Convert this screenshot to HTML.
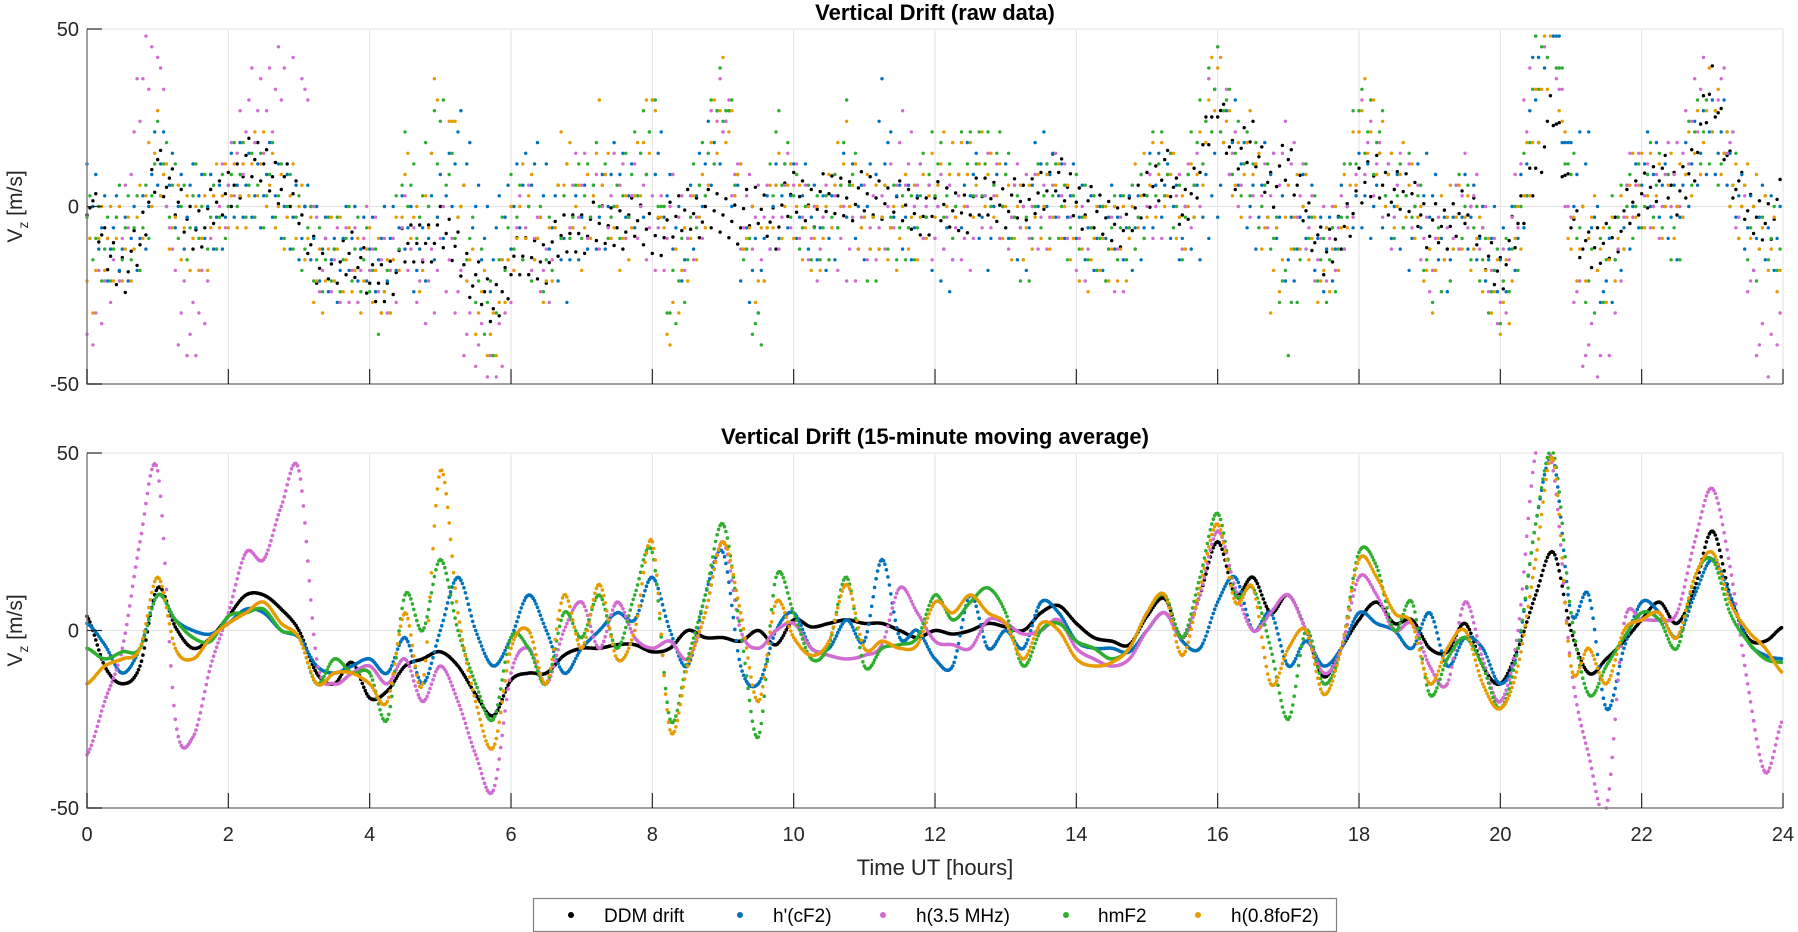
<!DOCTYPE html>
<html><head><meta charset="utf-8">
<style>
html,body{margin:0;padding:0;background:#fff;}
svg{display:block;font-family:"Liberation Sans",sans-serif;}
</style></head>
<body>
<svg id="chart" width="1798" height="932" viewBox="0 0 1798 932">
</svg>
<script>
// ---- data (Vz in m/s, sampled every 0.25 h) ----
const hours = Array.from({length:97},(_,i)=>i*0.25);
const seriesNames = ["DDM drift","h'(cF2)","h(3.5 MHz)","hmF2","h(0.8foF2)"];
const seriesColors = ["#000000","#0072BD","#D16BD1","#2EAE2E","#E89B00"];
const xTicks = [0,2,4,6,8,10,12,14,16,18,20,22,24];
const yTicks = [-50,0,50];
const ddm = [4,-10,-15,-10,12,1,-5,-2,4,10,10,6,0,-12,-15,-9,-19,-17,-10,-8,-6,-10,-18,-24,-14,-12,-12,-7,-5,-5,-4,-4,-6,-5,0,-2,-2,-3,0,-4,3,1,2,3,2,2,0,-2,0,-1,0,2,1,0,5,7,2,-2,-3,-4,4,9,-2,10,25,10,15,5,10,0,-13,-5,3,8,2,3,-5,-6,2,-10,-15,-5,10,22,0,-12,-8,-3,3,8,2,12,28,10,-2,-3,1];
const hcf2 = [2,-4,-12,-5,10,3,0,-1,2,6,5,0,-2,-10,-12,-10,-8,-12,-2,-15,0,15,0,-10,-2,10,0,-12,-5,0,5,3,15,0,-10,10,22,-10,-15,0,5,-5,-5,3,-3,20,-2,0,-8,-10,10,-5,0,-5,8,5,-3,-5,-5,-6,0,5,-3,-5,8,15,0,5,-10,-3,-10,-5,5,2,0,-5,5,-10,-2,-5,-15,-5,30,48,5,10,-22,-5,8,5,-2,10,20,10,-3,-7,-8];
const h35 = [-35,-20,-5,25,45,-25,-30,-10,5,22,20,35,45,-8,-15,-12,-10,-15,-8,-20,-10,-20,-35,-45,-12,-5,-15,0,8,-5,8,-2,-5,-3,-8,5,25,0,-5,0,2,-5,-7,-8,-7,-4,12,5,-3,-4,-5,3,2,-1,0,3,-5,-8,-10,-8,0,5,-2,10,28,12,0,5,10,0,-12,-5,15,10,0,2,-10,-15,8,-8,-20,0,50,45,-10,-35,-50,2,3,3,5,25,40,18,-15,-40,-25];
const hmf2 = [-5,-8,-6,-5,10,3,-2,-3,4,5,6,0,-2,-15,-8,-12,-12,-25,10,0,20,0,-15,-25,-2,-5,-15,5,-2,10,-5,10,22,-25,-8,10,30,0,-30,15,5,-8,-4,15,-10,-5,-4,-2,10,3,8,12,5,-10,0,2,-3,-5,-8,-5,5,10,-2,15,33,10,12,-5,-25,0,-15,-5,22,18,0,8,-18,-8,-2,-10,-22,-5,30,50,5,-18,-10,-2,5,3,-5,15,20,5,-3,-8,-9];
const h08 = [-15,-10,-8,-5,15,-5,-8,-2,2,5,8,2,-2,-15,-12,-12,-15,-20,5,-15,45,5,-20,-33,-5,0,-15,10,-5,13,-8,0,25,-28,-10,5,25,5,-20,8,-2,-7,-3,13,-5,-3,-5,-4,8,5,10,5,2,-8,2,0,-8,-10,-9,-5,5,10,-7,12,30,8,12,-15,-5,0,-18,-5,20,15,5,2,-15,-5,0,-15,-22,-10,20,48,-10,-5,-15,0,3,5,-2,15,22,8,0,-5,-12];
const allSeries = [ddm,hcf2,h35,hmf2,h08];

// ---- layout ----
const NS="http://www.w3.org/2000/svg";
const svg=document.getElementById('chart');
const X0=87,X1=1783;
const panels=[{top:29,bot:384,title:"Vertical Drift (raw data)",ty:20,name:"raw"},
              {top:453,bot:808,title:"Vertical Drift (15-minute moving average)",ty:444,name:"avg"}];
function xs(h){return X0+(h/24)*(X1-X0);}
function mk(tag,attrs,parent){const e=document.createElementNS(NS,tag);for(const k in attrs)e.setAttribute(k,attrs[k]);(parent||svg).appendChild(e);return e;}
function clamp(v){return Math.max(-50,Math.min(50,v));}
function cr(arr,i,f){
  const p0=arr[Math.max(0,i-1)],p1=arr[i],p2=arr[Math.min(arr.length-1,i+1)],p3=arr[Math.min(arr.length-1,i+2)];
  const f2=f*f,f3=f2*f;
  return 0.5*((2*p1)+(-p0+p2)*f+(2*p0-5*p1+4*p2-p3)*f2+(-p0+3*p1-3*p2+p3)*f3);
}

panels.forEach((p,pi)=>{
  const ys=v=>p.top+(50-v)/100*(p.bot-p.top);
  const g=mk('g',{});
  
  
  xTicks.forEach(t=>{const l=mk('line',{x1:xs(t),x2:xs(t),y1:p.top,y2:p.bot,stroke:'#e3e3e3','stroke-width':1},g);
    });
  yTicks.forEach(t=>{const l=mk('line',{x1:X0,x2:X1,y1:ys(t),y2:ys(t),stroke:'#e3e3e3','stroke-width':1},g);
    });
  allSeries.forEach((arr,si)=>{
    const sg=mk('g',{fill:seriesColors[si]},g);
    
    
    const sub = pi===0?6:12;
    for(let i=0;i<arr.length-1;i++){
      for(let k=0;k<sub;k++){
        const f=k/sub;
        const h=hours[i]+f*0.25;
        let v;
        if(pi===0){
          v=arr[i]*(1-f)+arr[i+1]*f;
          const j=((i*37+k*17+si*11)%13)-6;
          v=v*1.2+j*(si===0?1.2:2.2);
          if(si>0) v=Math.round(v/3)*3;
        } else v=cr(arr,i,f);
        if(v>50||v<-50) continue;
        mk('circle',{cx:xs(h).toFixed(1),cy:ys(v).toFixed(1),r:pi===0?1.7:1.8},sg);
      }
    }
  });
  const ax=mk('path',{d:`M${X0},${p.top} V${p.bot} H${X1}`,fill:'none',stroke:'#808080','stroke-width':1.5},g);
  
  xTicks.forEach(t=>{mk('line',{x1:xs(t),x2:xs(t),y1:p.bot,y2:p.bot-15,stroke:'#262626','stroke-width':1.2},g);});
  yTicks.forEach(t=>{mk('line',{x1:X0,x2:X0+15,y1:ys(t),y2:ys(t),stroke:'#262626','stroke-width':1.2},g);
    const tl=mk('text',{x:X0-8,y:ys(t)+7,'text-anchor':'end','font-size':20,fill:'#262626'},g);tl.textContent=t;
    });
  const tt=mk('text',{x:(X0+X1)/2,y:p.ty,'text-anchor':'middle','font-size':22,'font-weight':'bold',fill:'#000'},g);
  tt.textContent=p.title;
  const yl=mk('text',{transform:`translate(22,${(p.top+p.bot)/2}) rotate(-90)`,'text-anchor':'middle','font-size':21,fill:'#262626'},g);
  yl.innerHTML='V<tspan font-size="14" dy="6">z</tspan><tspan dy="-6"> [m/s]</tspan>';
  
  if(pi===1){
    xTicks.forEach(t=>{const tl=mk('text',{x:xs(t),y:841,'text-anchor':'middle','font-size':20,fill:'#262626'},g);tl.textContent=t;
      });
    const xl=mk('text',{x:(X0+X1)/2,y:875,'text-anchor':'middle','font-size':22,fill:'#262626'},g);
    xl.textContent='Time UT [hours]';
  }
});
const lg=mk('g',{});


mk('rect',{x:533.5,y:898.5,width:803,height:33,fill:'#fff',stroke:'#808080','stroke-width':1.2},lg);
const dotX=[571,740,883,1066,1198], txtX=[604,773,916,1098,1231];
seriesNames.forEach((n,i)=>{
  const e=mk('g',{},lg);
  
  
  mk('circle',{cx:dotX[i],cy:915,r:3,fill:seriesColors[i]},e);
  const t=mk('text',{x:txtX[i],y:922,'font-size':19,fill:'#000'},e);t.textContent=n;
});
</script>
</body></html>
